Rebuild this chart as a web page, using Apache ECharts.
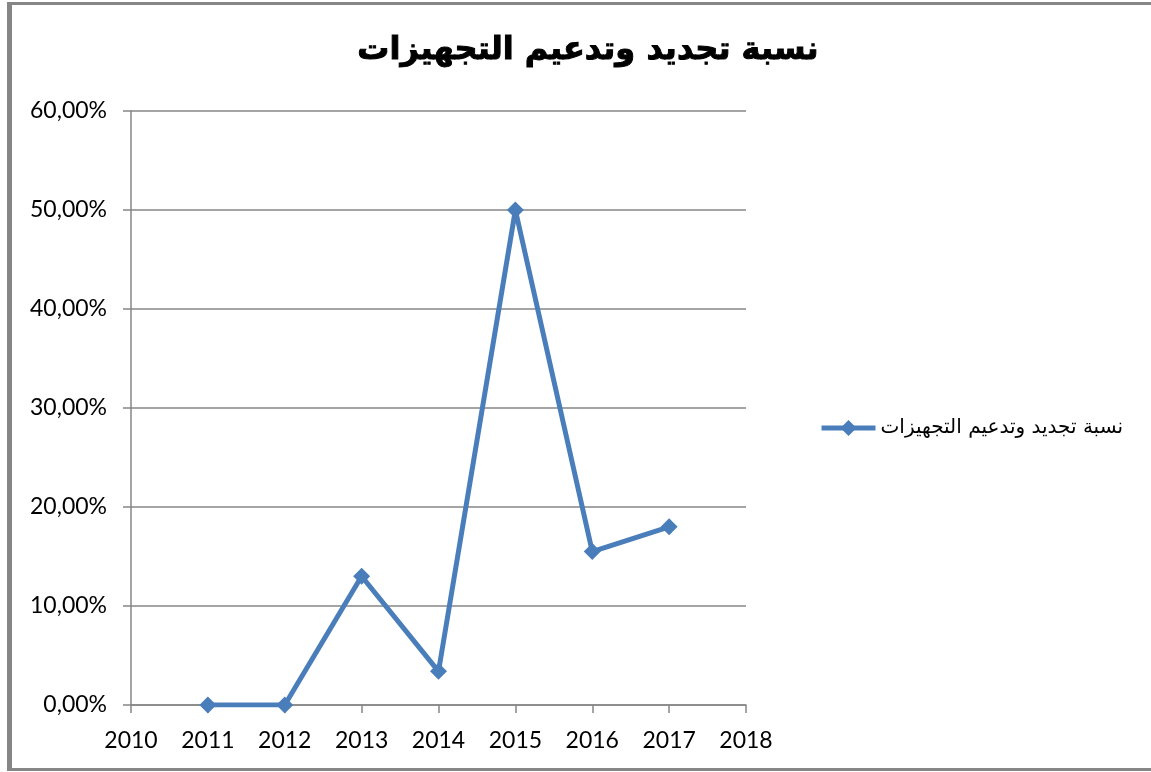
<!DOCTYPE html>
<html><head><meta charset="utf-8">
<script src="https://cdn.jsdelivr.net/npm/echarts@6/dist/echarts.min.js"></script>
<style>html,body{margin:0;padding:0;background:#fff}#c{width:1151px;height:772px}</style>
</head><body><div id="c"></div>
<script>
const title = 'نسبة تجديد وتدعيم التجهيزات';
const seriesName = 'نسبة تجديد وتدعيم التجهيزات';
const years = [2011, 2012, 2013, 2014, 2015, 2016, 2017];
const values = [0, 0, 13, 3.4, 50, 15.5, 18];
const xMin = 2010, xMax = 2018, xStep = 1;
const yMin = 0, yMax = 60, yStep = 10;

const chart = echarts.init(document.getElementById('c'));
chart.setOption({
  animation: false,
  backgroundColor: '#fff',
  title: {
    text: title, left: 583, top: 30, textAlign: 'center',
    textStyle: { fontFamily: 'DejaVu Sans', fontWeight: 'bold', fontSize: 32, color: '#000',
      textBorderColor: '#000', textBorderWidth: 1 }
  },
  grid: { left: 131, right: 405, top: 111, bottom: 67 },
  legend: {
    left: 814, top: 413, itemWidth: 54, itemHeight: 20, itemGap: 10,
    textStyle: { fontFamily: 'DejaVu Sans', fontSize: 20, color: '#000' },
    lineStyle: { width: 5 },
    data: [seriesName]
  },
  xAxis: {
    type: 'value', min: xMin, max: xMax, interval: xStep,
    axisLine: { show: true, onZero: false, lineStyle: { color: '#868686', width: 1.5 } },
    axisTick: { show: true, inside: false, length: 8, lineStyle: { color: '#868686', width: 1.5 } },
    splitLine: { show: false },
    axisLabel: { formatter: v => String(v), fontFamily: 'Lato', fontSize: 23, color: '#000', margin: 24 }
  },
  yAxis: {
    type: 'value', min: yMin, max: yMax, interval: yStep,
    axisLine: { show: true, lineStyle: { color: '#868686', width: 1.5 } },
    axisTick: { show: true, inside: false, length: 8, lineStyle: { color: '#868686', width: 1.5 } },
    splitLine: { show: true, lineStyle: { color: '#868686', width: 1.5 } },
    axisLabel: { formatter: v => v.toFixed(2).replace('.', ',') + '%', fontFamily: 'Lato', fontSize: 23, color: '#000', margin: 24 }
  },
  series: [{
    name: seriesName, type: 'line',
    data: years.map((y, i) => [y, values[i]]),
    symbol: 'diamond', symbolSize: 17,
    lineStyle: { color: '#4a7ebb', width: 5 },
    itemStyle: { color: '#4a7ebb' }
  }],
  graphic: [
    { type: 'rect', shape: { x: 7, y: 2, width: 1144, height: 3 }, style: { fill: '#868686' } },
    { type: 'rect', shape: { x: 7, y: 2, width: 5, height: 769 }, style: { fill: '#868686' } },
    { type: 'rect', shape: { x: 7, y: 768, width: 1144, height: 3 }, style: { fill: '#868686' } }
  ]
});
</script></body></html>
